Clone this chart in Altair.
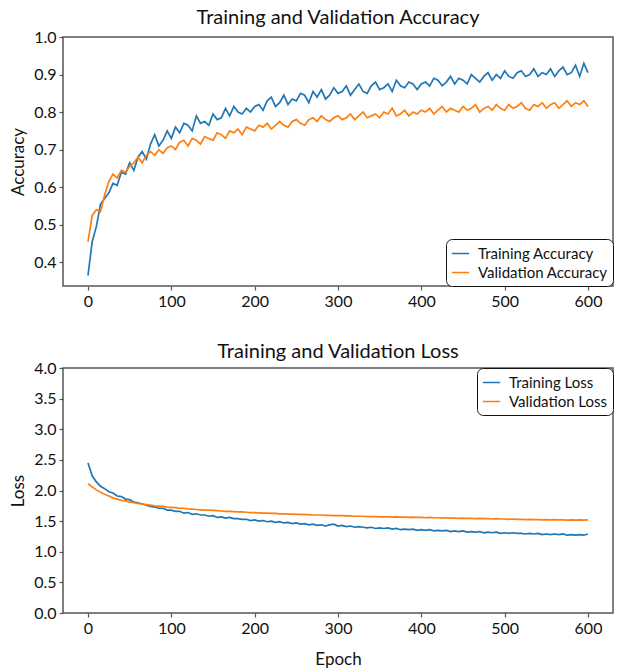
import altair as alt
import pandas as pd

FONT = "Lato"

epochs = list(range(0, 601, 5))

train_acc = [
    0.365, 0.455, 0.495, 0.555, 0.57, 0.585, 0.61, 0.605, 0.64, 0.635,
    0.665, 0.645, 0.68, 0.695, 0.675, 0.715, 0.74, 0.71, 0.725, 0.75,
    0.73, 0.76, 0.745, 0.77, 0.765, 0.75, 0.79, 0.77, 0.775, 0.765,
    0.795, 0.78, 0.785, 0.81, 0.79, 0.815, 0.80, 0.795, 0.81, 0.80,
    0.815, 0.82, 0.805, 0.83, 0.84, 0.815, 0.825, 0.845, 0.82, 0.835,
    0.83, 0.85, 0.845, 0.825, 0.855, 0.84, 0.86, 0.835, 0.845, 0.865,
    0.85, 0.855, 0.87, 0.845, 0.86, 0.875, 0.855, 0.85, 0.87, 0.88,
    0.86, 0.865, 0.875, 0.855, 0.885, 0.87, 0.865, 0.88, 0.875, 0.86,
    0.875, 0.88, 0.87, 0.89, 0.885, 0.87, 0.88, 0.895, 0.875, 0.89,
    0.885, 0.875, 0.90, 0.89, 0.88, 0.895, 0.905, 0.885, 0.90, 0.89,
    0.91, 0.895, 0.89, 0.905, 0.91, 0.895, 0.90, 0.915, 0.895, 0.905,
    0.90, 0.915, 0.895, 0.91, 0.92, 0.90, 0.905, 0.925, 0.895, 0.93,
    0.905,
]

val_acc = [
    0.455, 0.525, 0.54, 0.535, 0.58, 0.615, 0.635, 0.625, 0.645, 0.64,
    0.655, 0.665, 0.68, 0.665, 0.685, 0.695, 0.685, 0.70, 0.69, 0.705,
    0.71, 0.70, 0.72, 0.725, 0.71, 0.73, 0.725, 0.715, 0.735, 0.73,
    0.725, 0.745, 0.74, 0.73, 0.75, 0.745, 0.755, 0.74, 0.76, 0.755,
    0.75, 0.765, 0.76, 0.77, 0.755, 0.765, 0.775, 0.765, 0.76, 0.775,
    0.78, 0.77, 0.765, 0.78, 0.785, 0.775, 0.79, 0.78, 0.775, 0.785,
    0.79, 0.78, 0.785, 0.795, 0.78, 0.79, 0.80, 0.785, 0.79, 0.795,
    0.785, 0.80, 0.795, 0.81, 0.79, 0.795, 0.805, 0.79, 0.80, 0.795,
    0.805, 0.80, 0.81, 0.795, 0.805, 0.815, 0.80, 0.81, 0.805, 0.80,
    0.815, 0.805, 0.81, 0.82, 0.80, 0.81, 0.815, 0.805, 0.82, 0.81,
    0.805, 0.82, 0.81, 0.815, 0.825, 0.81, 0.805, 0.82, 0.815, 0.825,
    0.81, 0.82, 0.825, 0.81, 0.82, 0.83, 0.815, 0.825, 0.82, 0.83,
    0.815,
]

train_loss = [
    2.45, 2.24, 2.14, 2.07, 2.03, 1.98, 1.96, 1.91, 1.90, 1.86,
    1.85, 1.81, 1.80, 1.78, 1.76, 1.74, 1.73, 1.71, 1.71, 1.68,
    1.68, 1.66, 1.66, 1.63, 1.64, 1.61, 1.62, 1.60, 1.60, 1.58,
    1.59, 1.56, 1.57, 1.55, 1.56, 1.54, 1.54, 1.53, 1.53, 1.51,
    1.52, 1.50, 1.51, 1.49, 1.50, 1.48, 1.49, 1.47, 1.48, 1.46,
    1.47, 1.45, 1.46, 1.44, 1.45, 1.43, 1.44, 1.42, 1.44, 1.45,
    1.42, 1.43, 1.41, 1.42, 1.40, 1.41, 1.40, 1.39, 1.40, 1.38,
    1.39, 1.38, 1.39, 1.37, 1.38, 1.36, 1.37, 1.36, 1.37, 1.35,
    1.36, 1.35, 1.36, 1.34, 1.35, 1.34, 1.35, 1.33, 1.34, 1.33,
    1.34, 1.32, 1.33, 1.32, 1.33, 1.31, 1.32, 1.31, 1.32, 1.30,
    1.31, 1.30, 1.31, 1.30, 1.30, 1.29, 1.30, 1.29, 1.30, 1.28,
    1.29, 1.28, 1.29, 1.28, 1.29, 1.27, 1.28, 1.27, 1.28, 1.27,
    1.29,
]

val_loss = [
    2.11, 2.06, 2.01, 1.97, 1.94, 1.91, 1.88, 1.86, 1.84, 1.83,
    1.81, 1.80, 1.79, 1.78, 1.77, 1.76, 1.75, 1.745, 1.74, 1.73,
    1.725, 1.72, 1.71, 1.71, 1.70, 1.695, 1.69, 1.685, 1.68, 1.68,
    1.675, 1.67, 1.665, 1.66, 1.66, 1.655, 1.65, 1.65, 1.645, 1.64,
    1.64, 1.635, 1.63, 1.63, 1.625, 1.625, 1.62, 1.62, 1.615, 1.615,
    1.61, 1.61, 1.605, 1.605, 1.60, 1.60, 1.60, 1.595, 1.595, 1.59,
    1.59, 1.59, 1.585, 1.585, 1.58, 1.58, 1.58, 1.575, 1.575, 1.575,
    1.57, 1.57, 1.57, 1.565, 1.57, 1.565, 1.565, 1.56, 1.565, 1.56,
    1.56, 1.555, 1.56, 1.555, 1.555, 1.55, 1.555, 1.55, 1.55, 1.545,
    1.55, 1.545, 1.545, 1.54, 1.545, 1.54, 1.54, 1.535, 1.54, 1.535,
    1.535, 1.53, 1.535, 1.53, 1.53, 1.525, 1.53, 1.525, 1.525, 1.52,
    1.525, 1.52, 1.525, 1.52, 1.52, 1.515, 1.52, 1.515, 1.52, 1.515,
    1.52,
]

acc_names = ["Training Accuracy", "Validation Accuracy"]
loss_names = ["Training Loss", "Validation Loss"]
colors = ["#1f77b4", "#ff7f0e"]

x_ticks = [0, 100, 200, 300, 400, 500, 600]
acc_ticks = [0.4, 0.5, 0.6, 0.7, 0.8, 0.9, 1.0]
loss_ticks = [0.0, 0.5, 1.0, 1.5, 2.0, 2.5, 3.0, 3.5, 4.0]

n = len(epochs)
acc_df = pd.DataFrame({
    "Epoch": epochs + epochs,
    "value": train_acc + val_acc,
    "series": [acc_names[0]] * n + [acc_names[1]] * n,
    "order": list(range(n)) + list(range(n)),
})
loss_df = pd.DataFrame({
    "Epoch": epochs + epochs,
    "value": train_loss + val_loss,
    "series": [loss_names[0]] * n + [loss_names[1]] * n,
    "order": list(range(n)) + list(range(n)),
})

def title(text, offset):
    return alt.Title(text, fontSize=20, fontWeight="normal", font=FONT,
                     color="#111", offset=offset)

acc_chart = alt.Chart(acc_df, title=title("Training and Validation Accuracy", 1)).mark_line(
    strokeWidth=1.7
).encode(
    x=alt.X("Epoch:Q", scale=alt.Scale(domain=[-30, 630], nice=False, zero=False),
            axis=alt.Axis(values=x_ticks, title=None, format="d")),
    y=alt.Y("value:Q", scale=alt.Scale(domain=[0.337, 1.0], nice=False, zero=False),
            axis=alt.Axis(values=acc_ticks, format=".1f", title="Accuracy", titlePadding=6)),
    color=alt.Color("series:N", scale=alt.Scale(domain=acc_names, range=colors),
                    legend=alt.Legend(orient="bottom-right", title=None, offset=0)),
    order="order:Q",
).properties(width=550, height=249)

loss_chart = alt.Chart(loss_df, title=title("Training and Validation Loss", -2)).mark_line(
    strokeWidth=1.7
).encode(
    x=alt.X("Epoch:Q", scale=alt.Scale(domain=[-30, 630], nice=False, zero=False),
            axis=alt.Axis(values=x_ticks, title="Epoch", format="d", titlePadding=15)),
    y=alt.Y("value:Q", scale=alt.Scale(domain=[0, 4], nice=False, zero=False),
            axis=alt.Axis(values=loss_ticks, format=".1f", title="Loss", titlePadding=6)),
    color=alt.Color("series:N", scale=alt.Scale(domain=loss_names, range=colors),
                    legend=alt.Legend(orient="top-right", title=None, offset=0)),
    order="order:Q",
).properties(width=550, height=245)

chart = alt.vconcat(acc_chart, loss_chart, spacing=31).resolve_scale(
    color="independent"
).configure_view(
    stroke="#555", strokeWidth=1.5
).configure_axis(
    domain=False, grid=False, tickColor="#555", tickSize=4, tickWidth=1.2,
    labelFont=FONT, labelFontSize=16, labelColor="#111", labelPadding=3,
    titleFont=FONT, titleFontSize=17, titleFontWeight="normal", titleColor="#111",
).configure_legend(
    labelFont=FONT, labelFontSize=15, labelColor="#111",
    strokeColor="#111", cornerRadius=6, fillColor="white", padding=5,
    symbolType="stroke", symbolSize=300, symbolStrokeWidth=1.5,
    rowPadding=1, labelOffset=8,
).properties(
    padding={"left": 8, "top": 7, "right": 0, "bottom": 0},
    background="white",
)

chart.save("out.html", embed_options={"renderer": "svg", "actions": False})
